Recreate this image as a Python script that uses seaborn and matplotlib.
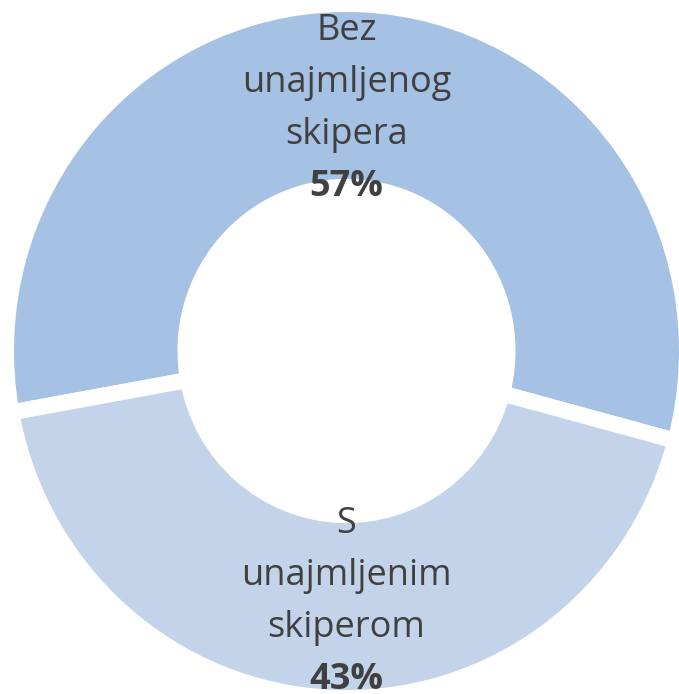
import seaborn as sns
import matplotlib.pyplot as plt

labels = ['Bez\nunajmljenog\nskipera', 'S\nunajmljenim\nskiperom']
shares = [57, 43]
colors = ['#A5C1E3', '#C3D4EA']

sns.set_theme(style='white')
plt.rcParams['font.family'] = ['Open Sans', 'DejaVu Sans']

fig = plt.figure(figsize=(6.79, 6.94), dpi=100)
ax = fig.add_axes([0, 0, 1, 1])

wedges, _ = ax.pie(shares, colors=colors, startangle=-15, counterclock=True,
                   radius=1.0,
                   wedgeprops=dict(width=0.527, edgecolor='white', linewidth=11.5))

# label blocks, one line per text so the percentage can be bold
step = 0.1499
starts = [0.896, -0.5245]
for lab, val, y0 in zip(labels, shares, starts):
    lines = lab.split('\n')
    for k, line in enumerate(lines):
        ax.text(0.0, y0 - k * step, line, ha='center', va='baseline',
                fontsize=26, color='#404040')
    ax.text(0.0, y0 - len(lines) * step, f'{val}%', ha='center', va='baseline',
            fontsize=26, fontweight='bold', color='#404040')

ax.set_aspect('auto')
ax.set_xlim(-1.0176, 0.9765)
ax.set_ylim(-0.9885, 1.0115)
ax.axis('off')

fig.savefig('out.png', dpi=100)
